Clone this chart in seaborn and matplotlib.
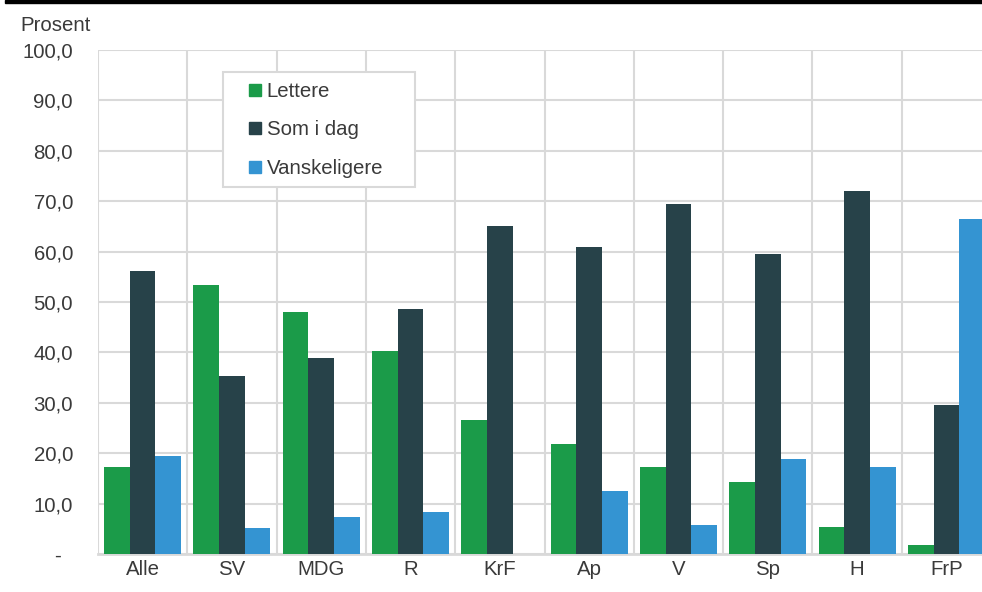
import numpy as np
import pandas as pd
import matplotlib
matplotlib.use("Agg")
import matplotlib.pyplot as plt
import seaborn as sns
from matplotlib.patches import Rectangle
from matplotlib.lines import Line2D

partier = ["Alle", "SV", "MDG", "R", "KrF", "Ap", "V", "Sp", "H", "FrP"]
lettere = [17.3, 53.4, 48.0, 40.3, 26.6, 21.9, 17.3, 14.2, 5.4, 1.7]
som_i_dag = [56.2, 35.3, 38.9, 48.6, 65.1, 60.9, 69.4, 59.5, 72.0, 29.5]
vanskeligere = [19.5, 5.2, 7.3, 8.3, 0.0, 12.5, 5.8, 18.8, 17.3, 66.5]
serier = ["Lettere", "Som i dag", "Vanskeligere"]
farger = ["#1b9b49", "#274249", "#3494d2"]

df = pd.DataFrame({
    "parti": partier * 3,
    "serie": np.repeat(serier, len(partier)),
    "verdi": lettere + som_i_dag + vanskeligere,
})

sns.set_style("white")
plt.rcParams["font.family"] = ["Liberation Sans", "DejaVu Sans"]
tekst = "#3a3a3a"
grid = "#d9d9d9"
fs = 14.7
W, H = 982, 592

fig = plt.figure(figsize=(W / 100, H / 100), dpi=100)
ax = fig.add_axes([98 / W, 38 / H, 893 / W, 504 / H])

sns.barplot(data=df, x="parti", y="verdi", hue="serie", palette=farger,
            saturation=1, width=0.862, gap=0, linewidth=0, ax=ax, zorder=3)

ax.set_ylim(0, 100)
ax.set_xlim(-0.5, len(partier) - 0.5)
yt = np.arange(0, 101, 10)
ax.set_yticks(yt)
ax.set_yticklabels(["-  "] + [f"{v:.1f}".replace(".", ",") for v in yt[1:]])
ax.set_xticks(range(len(partier)))
ax.set_xticklabels(partier)
ax.set_xticks(np.arange(-0.5, len(partier), 1), minor=True)
ax.tick_params(axis="both", which="both", length=0, labelsize=fs, colors=tekst)
ax.tick_params(axis="x", pad=4)
ax.tick_params(axis="y", pad=18)
ax.grid(axis="y", which="major", color=grid, linewidth=1.5, zorder=0)
ax.grid(axis="x", which="minor", color=grid, linewidth=1.5, zorder=0)
ax.grid(axis="x", which="major", visible=False)
for s in ["top", "right", "left"]:
    ax.spines[s].set_visible(False)
ax.spines["bottom"].set_color(grid)
ax.spines["bottom"].set_linewidth(2)
ax.set_xlabel("")
ax.set_ylabel("")

# legend without frame, frame drawn as its own box behind it
handles = [Line2D([0], [0], marker="s", linestyle="none", markersize=8,
                  markerfacecolor=c, markeredgecolor=c) for c in farger]
leg = ax.legend(handles, serier, loc="upper left",
                bbox_to_anchor=(249.5 / W, 1 - 82 / H), bbox_transform=fig.transFigure,
                fontsize=fs, frameon=False, labelspacing=0.95,
                handlelength=0.55, handletextpad=0.3, borderpad=0, borderaxespad=0)
for t in leg.get_texts():
    t.set_color(tekst)
leg.set_zorder(7)
boks = Rectangle((223 / W, 1 - 187 / H), 192 / W, 115 / H, transform=fig.transFigure,
                 facecolor="white", edgecolor=grid, linewidth=1.5, zorder=6, clip_on=False)
ax.add_artist(boks)

fig.patches.append(Rectangle((5 / W, 1 - 3.3 / H), 1, 3.3 / H, transform=fig.transFigure,
                             color="black", zorder=10))
fig.text(20 / W, 1 - 30.7 / H, "Prosent", fontsize=fs, color=tekst, va="baseline", ha="left")

fig.savefig("out.png", dpi=100)
